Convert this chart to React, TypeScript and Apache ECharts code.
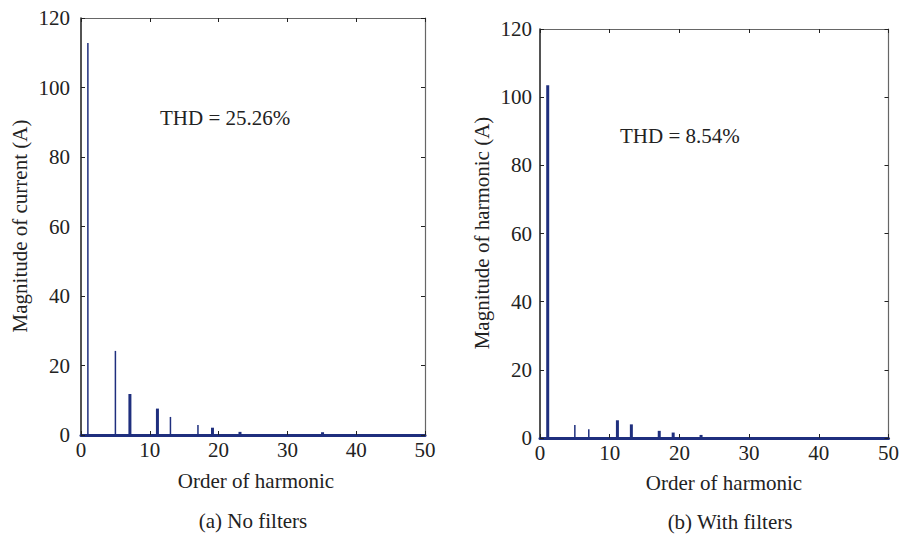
import React, { useEffect, useRef } from "react";
import * as echarts from "echarts";

// (a) No filters
const leftOrders = [1, 5, 7, 11, 13, 17, 19, 23, 35];
const leftValues = [112.8, 24.2, 11.8, 7.6, 5.2, 2.9, 2.1, 0.9, 0.8];
const leftThick = [7, 11, 19, 23, 35];

// (b) With filters
const rightOrders = [1, 5, 7, 11, 13, 17, 19, 23];
const rightValues = [103.5, 3.8, 2.6, 5.2, 4.0, 2.1, 1.6, 0.9];
const rightThick = [1, 11, 13, 17, 19, 23];

const xTicks = [0, 10, 20, 30, 40, 50];
const yTicks = [0, 20, 40, 60, 80, 100, 120];

const titles = {
  leftY: "Magnitude of current (A)",
  rightY: "Magnitude of harmonic (A)",
  x: "Order of harmonic",
  leftSub: "(a) No filters",
  rightSub: "(b) With filters",
  leftThd: "THD = 25.26%",
  rightThd: "THD = 8.54%",
};

const NAVY = "#1f2f7e";
const FONT = "Liberation Serif";
const FS = 21;

function pairs(orders: number[], values: number[], pick: (o: number) => boolean) {
  const out: number[][] = [];
  orders.forEach((o, i) => {
    if (pick(o)) out.push([o, values[i]]);
  });
  return out;
}

export default function App() {
  const ref = useRef<HTMLDivElement>(null);
  useEffect(() => {
    if (!ref.current) return;
    const chart = echarts.init(ref.current, undefined, { renderer: "svg" });

    const mkX = (gridIndex: number, top: boolean) => ({
      type: "value",
      gridIndex,
      position: top ? "top" : "bottom",
      min: xTicks[0],
      max: xTicks[xTicks.length - 1],
      interval: 10,
      axisLine: {
        show: true,
        onZero: false,
        lineStyle: top ? { color: "#666", width: 1 } : { color: NAVY, width: 3 },
      },
      axisTick: { show: true, inside: true, length: 4, lineStyle: { color: "#222" } },
      axisLabel: top
        ? { show: false }
        : { show: true, fontFamily: FONT, fontSize: FS, color: "#222", margin: 4 },
      splitLine: { show: false },
    });
    const mkY = (gridIndex: number, right: boolean, margin: number) => ({
      type: "value",
      gridIndex,
      position: right ? "right" : "left",
      min: yTicks[0],
      max: yTicks[yTicks.length - 1],
      interval: 20,
      axisLine: {
        show: true,
        onZero: false,
        lineStyle: { color: right ? "#666" : "#1a1a1a", width: right ? 1.2 : 1.5 },
      },
      axisTick: { show: true, inside: true, length: 4, lineStyle: { color: "#222" } },
      axisLabel: right
        ? { show: false }
        : { show: true, fontFamily: FONT, fontSize: FS, color: "#222", margin },
      splitLine: { show: false },
    });

    const barSeries = (name: string, axis: number, data: number[][], width: number) => ({
      type: "bar",
      name,
      xAxisIndex: axis,
      yAxisIndex: axis,
      data,
      barWidth: width,
      barGap: "-100%",
      itemStyle: { color: NAVY },
      silent: true,
    });

    const text = (t: string, x: number, y: number, align: string, rot = 0) => ({
      type: "text",
      x,
      y,
      rotation: rot,
      style: {
        text: t,
        fontFamily: FONT,
        fontSize: FS,
        fill: "#222",
        textAlign: align,
        textVerticalAlign: "middle",
      },
    });

    chart.setOption({
      animation: false,
      backgroundColor: "#fff",
      grid: [
        { left: 81, top: 18, width: 344, height: 417 },
        { left: 540, top: 29, width: 351, height: 409 },
      ],
      xAxis: [mkX(0, false), mkX(0, true), mkX(1, false), mkX(1, true)],
      yAxis: [mkY(0, false, 11), mkY(0, true, 11), mkY(1, false, 8), mkY(1, true, 8)],
      series: [
        barSeries("a-thick", 0, pairs(leftOrders, leftValues, (o) => leftThick.includes(o)), 3),
        barSeries("a-thin", 0, pairs(leftOrders, leftValues, (o) => !leftThick.includes(o)), 1.5),
        barSeries("b-thick", 2, pairs(rightOrders, rightValues, (o) => rightThick.includes(o)), 3),
        barSeries("b-thin", 2, pairs(rightOrders, rightValues, (o) => !rightThick.includes(o)), 1.5),
      ],
      graphic: [
        text(titles.leftThd, 160, 118, "left"),
        text(titles.rightThd, 620, 136, "left"),
        text(titles.leftY, 20, 226, "center", Math.PI / 2),
        text(titles.rightY, 482, 233, "center", Math.PI / 2),
        text(titles.x, 256, 481, "center"),
        text(titles.x, 724, 483, "center"),
        text(titles.leftSub, 253, 521, "center"),
        text(titles.rightSub, 730, 522, "center"),
      ],
    });
    return () => chart.dispose();
  }, []);
  return (
    <div
      ref={ref}
      style={{ position: "absolute", left: 0, top: 0, width: 902, height: 536 }}
    />
  );
}
